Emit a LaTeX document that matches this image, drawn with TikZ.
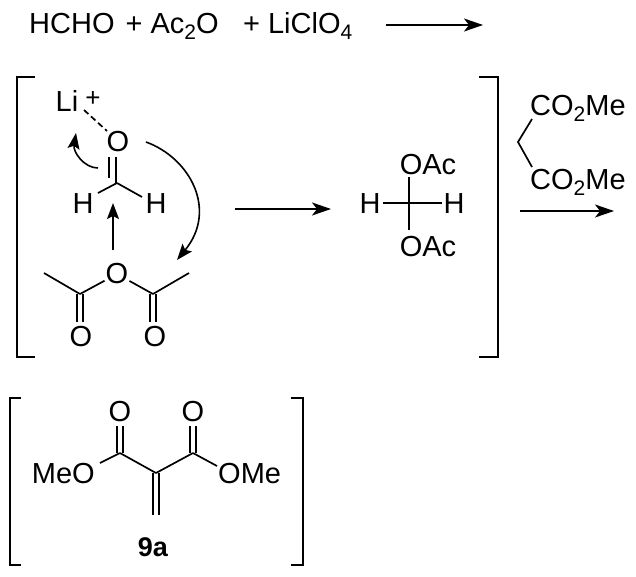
\documentclass[tikz,border=0pt]{standalone}
\usepackage{fontspec}
\setmainfont{Liberation Sans}
\usetikzlibrary{arrows.meta}
\newcommand{\subnum}[1]{\raisebox{-6pt}{\fontsize{21}{21}\selectfont #1}}
\tikzset{
  atom/.style={inner sep=1pt,font=\fontsize{29}{29}\selectfont},
  label/.style={inner sep=0pt,font=\fontsize{29}{29}\selectfont},
  bond/.style={draw=black,line width=1.7pt},
  rxn/.style={draw=black,line width=1.7pt,-{Stealth[length=19pt,width=13pt,inset=5pt]}},
  curly/.style={draw=black,line width=1.6pt,-{Stealth[length=16pt,width=12pt,inset=3pt]}},
  brk/.style={draw=black,line width=1.7pt},
}
\begin{document}
\begin{tikzpicture}[x=1pt,y=-1pt]
            \useasboundingbox (0,0) rectangle (636,576);

            % first line
            \node[label,anchor=west] (hcho) at (29,26) {HCHO\hspace{11pt}+\hspace{8pt}Ac\subnum{2}O};
            \node[label,anchor=west] (liclo) at (243,26) {+\hspace{8pt}LiClO\subnum{4}};
            \coordinate (a1s) at (386,25);
            \coordinate (a1e) at (483,25);
            \path (a1s) edge[rxn] (a1e);

            % left bracket pair
            \coordinate (b1a) at (35,77);
            \coordinate (b1b) at (17,77);
            \coordinate (b1c) at (17,357);
            \coordinate (b1d) at (35,357);
            \coordinate (b2a) at (479,77);
            \coordinate (b2b) at (498,77);
            \coordinate (b2c) at (498,357);
            \coordinate (b2d) at (479,357);
            \draw[brk] (b1a) -- (b1b) -- (b1c) -- (b1d);
            \draw[brk] (b2a) -- (b2b) -- (b2c) -- (b2d);

            % formaldehyde
            \begin{scope}[every node/.style={atom}]
                \node (Li) at (67,101) {Li};
                \node (O1) at (118,142) {O};
                \node (H1) at (83,204) {H};
                \node (H2) at (156,204) {H};
                \node (O2) at (117,274) {O};
                \node (O3) at (81,337) {O};
                \node (O4) at (155,337) {O};
            \end{scope}
            \node[inner sep=0pt,font=\fontsize{26}{26}\selectfont] (plus) at (93,99) {+};
            \coordinate (C1) at (117,183);
            \coordinate (C2) at (80,294);
            \coordinate (C3) at (153,294);
            \coordinate (Me1) at (44,273);
            \coordinate (Me2) at (189,273);
            \coordinate (d1) at (84,110);
            \coordinate (d2) at (107,131);
            \coordinate (p1) at (109,157);
            \coordinate (p2) at (109,178);
            \coordinate (p3) at (116,157);
            \coordinate (k3) at (98,193);
            \coordinate (k4) at (142,197);
            \coordinate (t1) at (80,322);
            \coordinate (t2) at (153,322);

            \path [-] (d1) edge[bond,dash pattern=on 6pt off 3.5pt] (d2);
            \path [-] (p1) edge[bond] (p2);
            \path [-] (p3) edge[bond] (p3 |- C1);
            \path [-] (C1) edge[bond] (k3);
            \path [-] (C1) edge[bond] (k4);
            \path [-] (Me1) edge[bond] (C2);
            \path [-] (C2) edge[bond] (O2);
            \path [-] (O2) edge[bond] (C3);
            \path [-] (C3) edge[bond] (Me2);
            \path [-] ([xshift=-3.3pt]C2) edge[bond] ([xshift=-3.3pt]t1);
            \path [-] ([xshift=3.3pt]C2) edge[bond] ([xshift=3.3pt]t1);
            \path [-] ([xshift=-3.3pt]C3) edge[bond] ([xshift=-3.3pt]t2);
            \path [-] ([xshift=3.3pt]C3) edge[bond] ([xshift=3.3pt]t2);

            % electron pushing arrows
            \coordinate (e1s) at (113,250);
            \coordinate (e1e) at (113,203);
            \path (e1s) edge[curly] (e1e);
            \coordinate (e2s) at (98,168);
            \coordinate (e2e) at (76,133);
            \draw[curly] (e2s) .. controls (84,168) and (73,152) .. (e2e);
            \coordinate (e3s) at (146,142);
            \coordinate (e3e) at (177,260);
            \draw[curly] (e3s) .. controls (190,158) and (218,210) .. (e3e);

            % middle arrow
            \coordinate (a2s) at (235,209);
            \coordinate (a2e) at (331,209);
            \path (a2s) edge[rxn] (a2e);

            % diacetate
            \node[atom] (Ac1) at (428,165) {OAc};
            \node[atom] (Ac2) at (428,247) {OAc};
            \node[atom] (H3) at (370,204) {H};
            \node[atom] (H4) at (454,204) {H};
            \coordinate (h1) at (383,203);
            \coordinate (h2) at (442,203);
            \coordinate (v1) at (409,177);
            \coordinate (v2) at (409,230);
            \path [-] (h1) edge[bond] (h2);
            \path [-] (v1) edge[bond] (v2);

            % malonate
            \node[label,anchor=west] (M1) at (530,108) {CO\subnum{2}Me};
            \node[label,anchor=west] (M2) at (530,182) {CO\subnum{2}Me};
            \coordinate (m0) at (518,142);
            \coordinate (m1) at (532,119);
            \coordinate (m2) at (532,167);
            \draw[bond] (m1) -- (m0) -- (m2);
            \coordinate (a3s) at (520,211);
            \coordinate (a3e) at (614,211);
            \path (a3s) edge[rxn] (a3e);

            % product
            \coordinate (b3a) at (21,398);
            \coordinate (b3b) at (10,398);
            \coordinate (b3c) at (10,565);
            \coordinate (b3d) at (21,565);
            \coordinate (b4a) at (291,398);
            \coordinate (b4b) at (303,398);
            \coordinate (b4c) at (303,565);
            \coordinate (b4d) at (291,565);
            \draw[brk] (b3a) -- (b3b) -- (b3c) -- (b3d);
            \draw[brk] (b4a) -- (b4b) -- (b4c) -- (b4d);
            \node[atom] (O5) at (120,412) {O};
            \node[atom] (O6) at (193,412) {O};
            \node[atom,anchor=east] (MeO) at (96,474) {MeO};
            \node[atom,anchor=west] (OMe) at (217,474) {OMe};
            \coordinate (C5) at (120,453);
            \coordinate (C6) at (193,453);
            \coordinate (C7) at (156,473);
            \coordinate (C8) at (156,515);
            \coordinate (k1) at (100,463);
            \coordinate (k2) at (217,466);
            \coordinate (t3) at (120,426);
            \coordinate (t4) at (193,426);
            \path [-] (k1) edge[bond] (C5);
            \path [-] (C5) edge[bond] (C7);
            \path [-] (C7) edge[bond] (C6);
            \path [-] (C6) edge[bond] (k2);
            \path [-] ([xshift=-3.3pt]C5) edge[bond] ([xshift=-3.3pt]t3);
            \path [-] ([xshift=3.3pt]C5) edge[bond] ([xshift=3.3pt]t3);
            \path [-] ([xshift=-3.3pt]C6) edge[bond] ([xshift=-3.3pt]t4);
            \path [-] ([xshift=3.3pt]C6) edge[bond] ([xshift=3.3pt]t4);
            \path [-] ([xshift=-3.3pt]C7) edge[bond] ([xshift=-3.3pt]C8);
            \path [-] ([xshift=3.3pt]C7) edge[bond] ([xshift=3.3pt]C8);
            \node[label,font=\fontsize{27}{27}\selectfont\bfseries] (name) at (153,547) {9a};
\end{tikzpicture}
\end{document}
